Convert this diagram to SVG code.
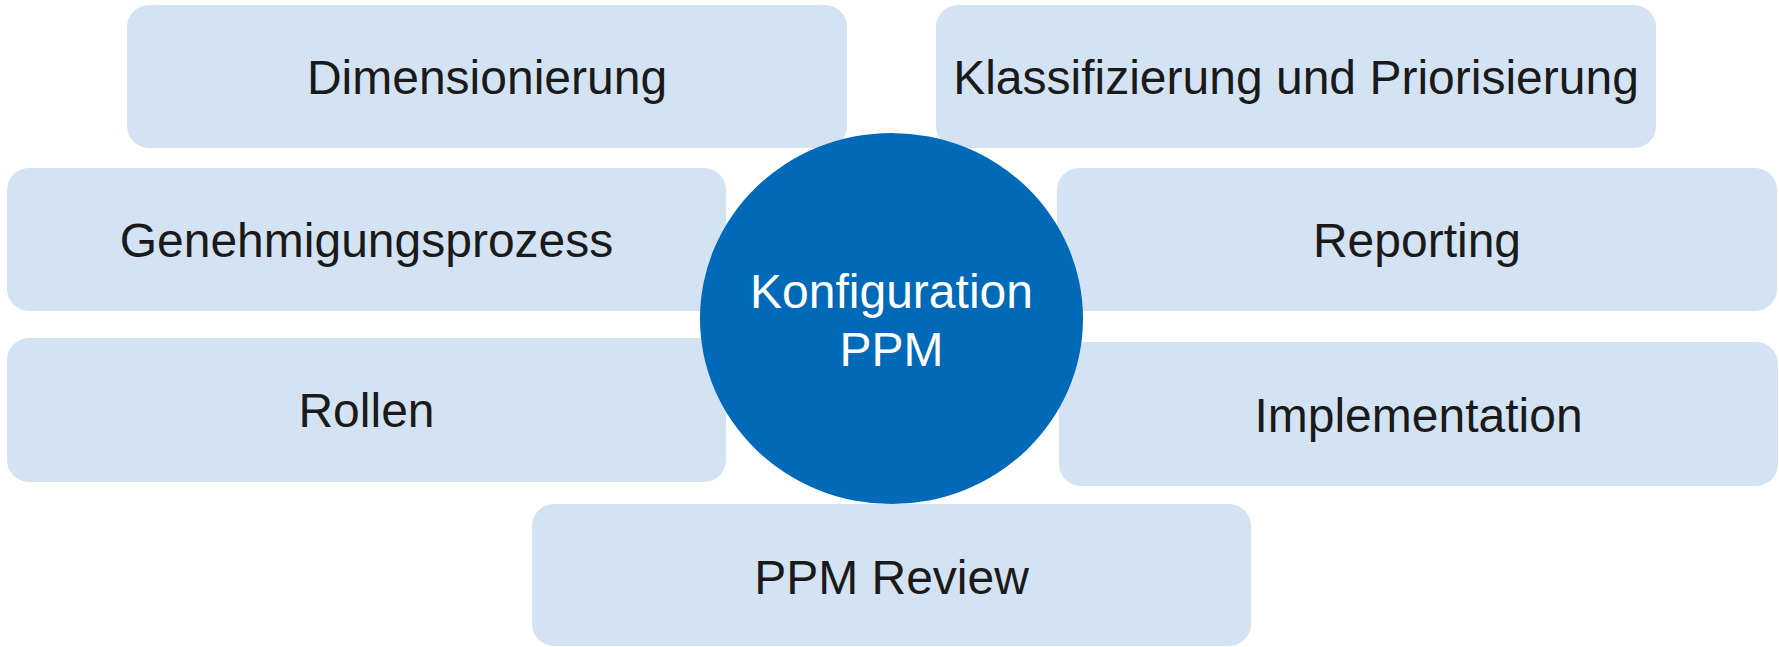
<svg xmlns="http://www.w3.org/2000/svg" width="1779" height="647" viewBox="0 0 1779 647">
<style>
.box{fill:#D3E3F3;}
.lbl{font-family:"Liberation Sans",Arial,sans-serif;font-size:48px;fill:#1a1a1a;text-anchor:middle;}
.hub{fill:#006AB8;}
.hubt{font-family:"Liberation Sans",Arial,sans-serif;font-size:48px;fill:#ffffff;text-anchor:middle;}
</style>
<rect width="1779" height="647" fill="#ffffff"/>
<g id="connectors"></g>
<g id="dimensionierung"><rect class="box" x="127" y="5" width="720" height="143" rx="22"/><text class="lbl" x="487" y="94">Dimensionierung</text></g>
<g id="klassifizierung"><rect class="box" x="936" y="5" width="720" height="143" rx="22"/><text class="lbl" x="1296" y="94">Klassifizierung und Priorisierung</text></g>
<g id="genehmigungsprozess"><rect class="box" x="7" y="168" width="719" height="143" rx="22"/><text class="lbl" x="366.5" y="257">Genehmigungsprozess</text></g>
<g id="reporting"><rect class="box" x="1057" y="168" width="720" height="143" rx="22"/><text class="lbl" x="1417" y="257">Reporting</text></g>
<g id="rollen"><rect class="box" x="7" y="338" width="719" height="144" rx="22"/><text class="lbl" x="366.5" y="427">Rollen</text></g>
<g id="implementation"><rect class="box" x="1059" y="342" width="719" height="144" rx="22"/><text class="lbl" x="1418.5" y="432">Implementation</text></g>
<g id="ppm-review"><rect class="box" x="532" y="504" width="719" height="142" rx="22"/><text class="lbl" x="891.5" y="594">PPM Review</text></g>
<g id="konfiguration-ppm"><ellipse class="hub" cx="891.5" cy="318.5" rx="191.5" ry="185.5"/><text class="hubt" x="891.5" y="308">Konfiguration</text><text class="hubt" x="891.5" y="366">PPM</text></g>
</svg>
